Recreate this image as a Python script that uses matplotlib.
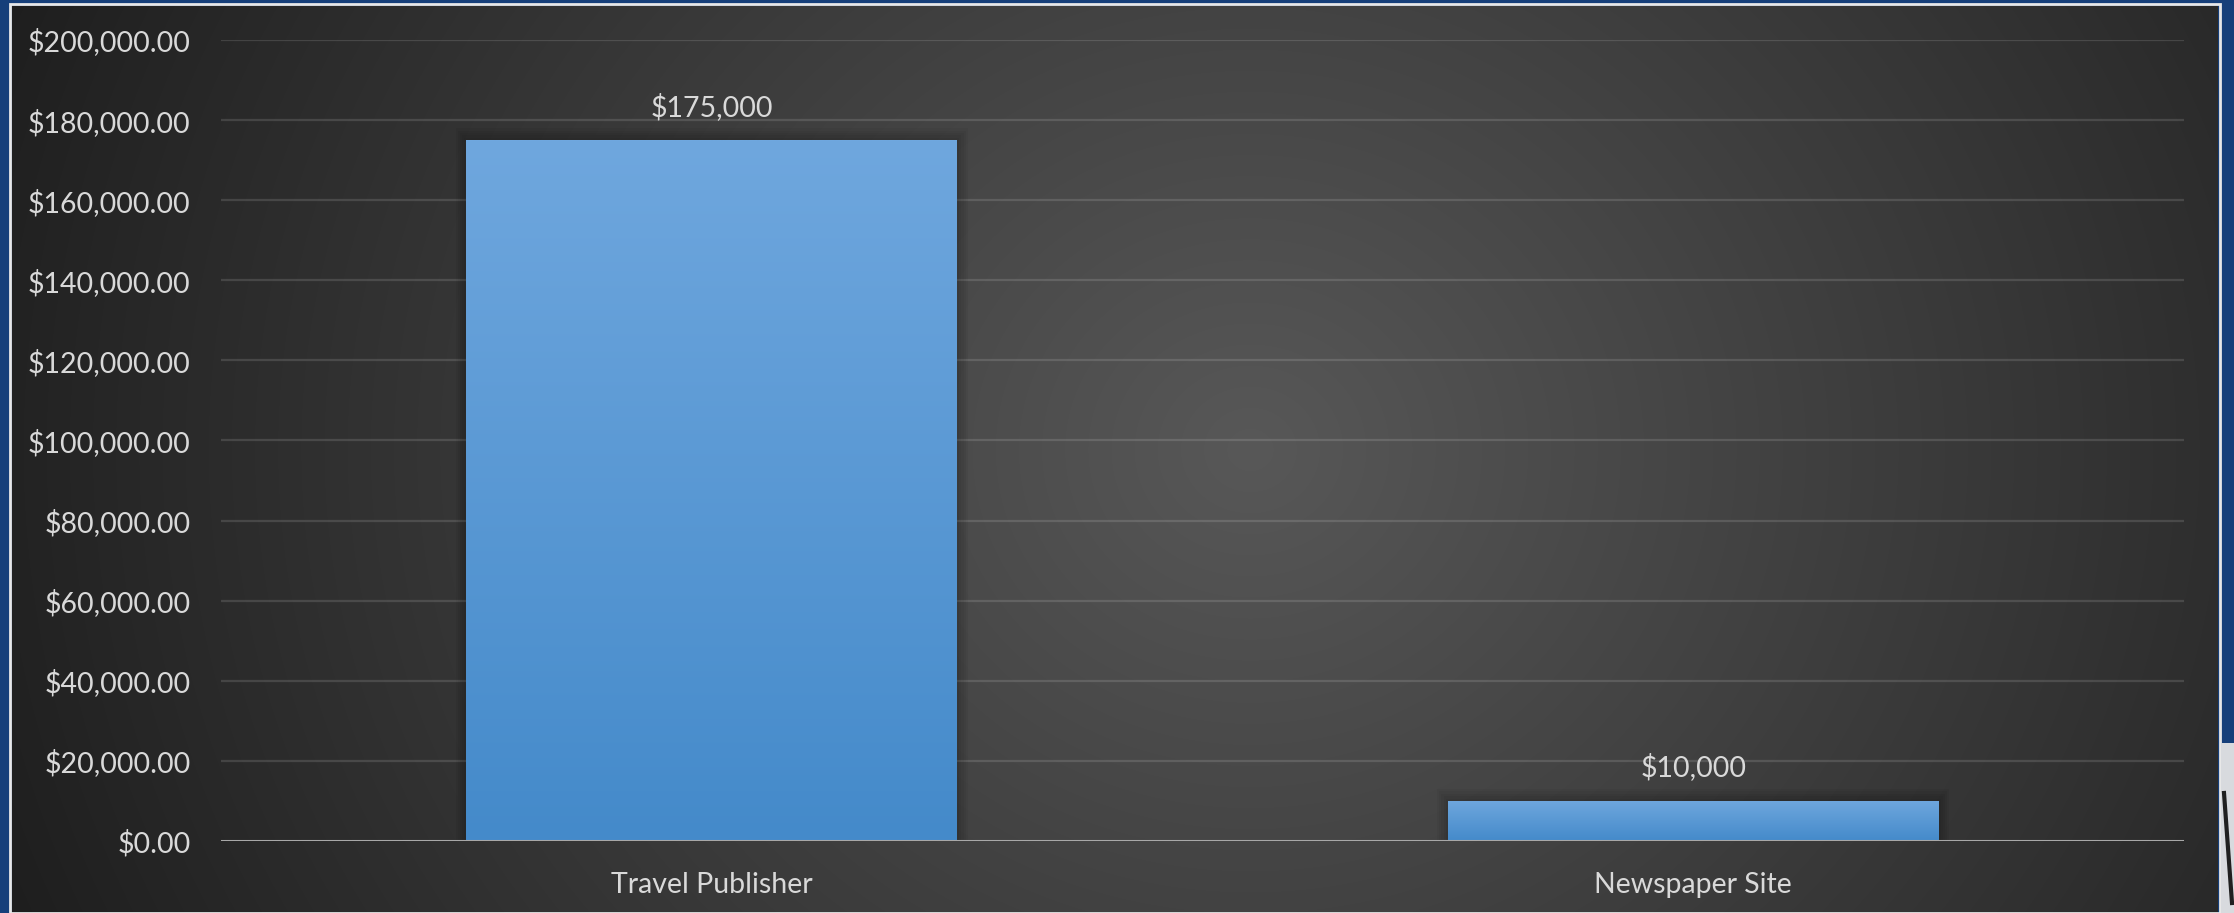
import numpy as np
import matplotlib.pyplot as plt
from matplotlib.patches import Rectangle

# spend per placement
categories = ['Travel Publisher', 'Newspaper Site']
spend = [175000, 10000]
y_ticks = [0, 20000, 40000, 60000, 80000, 100000, 120000, 140000, 160000, 180000, 200000]

W, H = 2234, 913
txt = '#d9d9d9'
plt.rcParams['font.family'] = ['Lato', 'DejaVu Sans']

fig = plt.figure(figsize=(W / 100, H / 100), dpi=100)
fig.patch.set_facecolor('#163f7a')

# dark panel with radial shading
px0, px1, py0 = 12, 2218, 6
bg = fig.add_axes([px0 / W, 0, (px1 - px0) / W, (H - py0) / H])
gx, gy = np.meshgrid(np.arange(px0, px1), np.arange(py0, H))
d = np.hypot(gx - 1250, (gy - 450) * 1.1)
v = np.clip(88 - 54 * d / 1250, 30, 90) / 255
bg.imshow(np.dstack([v, v, v]), aspect='auto', extent=[0, 1, 0, 1], interpolation='bilinear')
bg.set_axis_off()
fig.patches.append(Rectangle((10 / W, 0), (px1 - 8) / W, (H - 4) / H, transform=fig.transFigure,
                             fill=False, edgecolor='#e8e8e8', linewidth=2, zorder=5))
# bit of photo peeking at the right edge
fig.patches.append(Rectangle((2221 / W, 0), 13 / W, 170 / H, transform=fig.transFigure,
                             facecolor='#d8dade', edgecolor='none', zorder=5))
fig.lines.append(plt.Line2D([2224 / W, 2232 / W], [120 / H, 10 / H], transform=fig.transFigure,
                            color='#202020', linewidth=3, zorder=6))

# plot area
ax = fig.add_axes([221 / W, (H - 841) / H, (2184 - 221) / W, (841 - 40) / H])
ax.patch.set_alpha(0)
width = 0.5

for y in y_ticks[1:]:
    ax.axhline(y, color='#ffffff', alpha=0.13, linewidth=1.6, zorder=1)
ax.axhline(0, color='#a8a8a8', linewidth=2.2, zorder=4)

x = np.arange(len(categories))
bars = ax.bar(x, spend, width=width, color='#5a9bd8', zorder=3)
top_c = np.array([111, 167, 222]) / 255
bot_c = np.array([68, 138, 202]) / 255
for b, val in zip(bars, spend):
    bx, bw = b.get_x(), b.get_width()
    # soft shadow behind the bar
    for k in range(1, 6):
        pad_x, pad_y = 0.0022 * k, 600 * k
        ax.add_patch(Rectangle((bx - pad_x, 0), bw + 2 * pad_x, val + pad_y,
                               facecolor='black', alpha=0.045, edgecolor='none', zorder=2))
    t = np.linspace(0, 1, 256)[:, None]
    grad = top_c * (1 - t[..., None]) + bot_c * t[..., None]
    im = ax.imshow(grad, aspect='auto', extent=[bx, bx + bw, 0, val], zorder=3,
                   interpolation='bilinear')
    im.set_clip_path(b)
    ax.annotate(f'${val:,.0f}', (bx + bw / 2, val), xytext=(0, 14),
                textcoords='offset points', ha='center', va='bottom', color=txt, fontsize=20.5)

ax.set_xlim(-0.5, 1.5)
ax.set_ylim(0, 200000)
ax.set_yticks(y_ticks)
ax.set_yticklabels([f'${t:,.2f}' for t in y_ticks])
ax.set_xticks(x)
ax.set_xticklabels(categories)
ax.tick_params(axis='both', length=0, colors=txt, labelsize=20.5)
ax.tick_params(axis='y', pad=22)
ax.tick_params(axis='x', pad=22)
for s in ax.spines.values():
    s.set_visible(False)

fig.savefig('out.png', dpi=100)
